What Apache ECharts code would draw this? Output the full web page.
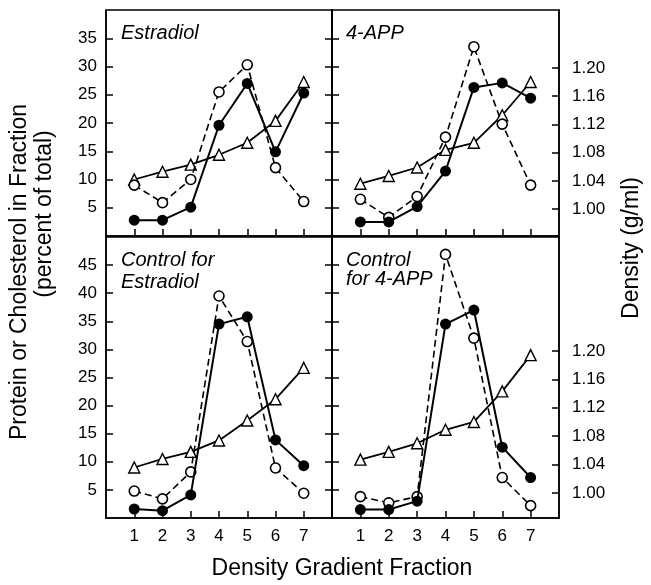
<!DOCTYPE html>
<html>
<head>
<meta charset="utf-8">
<script src="https://cdn.jsdelivr.net/npm/echarts@6/dist/echarts.min.js"></script>
<style>
  html, body { margin: 0; padding: 0; background: #fff; }
  #chart { width: 651px; height: 585px; }
</style>
</head>
<body>
<div id="chart"></div>
<script>
// fractions along the gradient
const fractions = [1, 2, 3, 4, 5, 6, 7];

// Estradiol (top left)
const estClosed = [2.8, 2.8, 5.1, 19.6, 27.0, 14.9, 25.3];
const estOpen = [9.0, 5.9, 10.0, 25.5, 30.3, 12.1, 6.1];
const estDensity = [1.042, 1.053, 1.063, 1.077, 1.094, 1.125, 1.180];

// 4-APP (top right)
const appClosed = [2.5, 2.5, 5.2, 11.5, 26.3, 27.1, 24.4];
const appOpen = [6.5, 3.3, 7.0, 17.5, 33.5, 19.8, 9.0];
const appDensity = [1.036, 1.047, 1.059, 1.084, 1.094, 1.133, 1.180];

// Control for Estradiol (bottom left)
const ctlEstClosed = [1.6, 1.3, 4.1, 34.5, 35.8, 13.9, 9.3];
const ctlEstOpen = [4.8, 3.4, 8.2, 39.5, 31.4, 8.9, 4.4];
const ctlEstDensity = [1.036, 1.048, 1.058, 1.074, 1.102, 1.132, 1.176];

// Control for 4-APP (bottom right)
const ctlAppClosed = [1.5, 1.5, 3.0, 34.5, 37.0, 12.6, 7.2];
const ctlAppOpen = [3.8, 2.7, 3.8, 46.9, 32.0, 7.2, 2.2];
const ctlAppDensity = [1.047, 1.058, 1.070, 1.089, 1.100, 1.143, 1.194];

// tick labels
const xTicks = [1, 2, 3, 4, 5, 6, 7];
const pctTicksTop = [5, 10, 15, 20, 25, 30, 35];
const pctTicksBottom = [5, 10, 15, 20, 25, 30, 35, 40, 45];
const densityTicks = [1.00, 1.04, 1.08, 1.12, 1.16, 1.20];

const FONT = "'Liberation Sans', Arial, Helvetica, sans-serif";

function pairs(vals) {
  return fractions.map((f, i) => [f, vals[i]]);
}

function xAxis(grid, showLabel) {
  return {
    type: 'value', gridIndex: grid, min: 0, max: 8,
    axisLine: { lineStyle: { color: '#000', width: 1.5 } },
    axisTick: { inside: true, length: 7, customValues: xTicks, lineStyle: { color: '#000', width: 1.5 } },
    axisLabel: { show: showLabel, customValues: xTicks, color: '#000', fontSize: 17, fontFamily: FONT, margin: 10 },
    splitLine: { show: false }
  };
}

function yAxis(grid, position, min, max, ticks, showLabel, margin, fmt) {
  return {
    type: 'value', gridIndex: grid, position: position, min: min, max: max,
    axisLine: { show: true, lineStyle: { color: '#000', width: 1.5 } },
    axisTick: { show: true, inside: true, length: 7, customValues: ticks, lineStyle: { color: '#000', width: 1.5 } },
    axisLabel: { show: showLabel, customValues: ticks, color: '#000', fontSize: 17, fontFamily: FONT, margin: margin, formatter: fmt },
    splitLine: { show: false }
  };
}

// density scale for the left panels, not drawn
function hiddenY(grid, min, max) {
  return { type: 'value', gridIndex: grid, position: 'right', min: min, max: max, show: false, splitLine: { show: false } };
}

function closedLine(xi, yi, vals) {
  return {
    type: 'line', xAxisIndex: xi, yAxisIndex: yi, data: pairs(vals),
    symbol: 'circle', symbolSize: 11, z: 4,
    itemStyle: { color: '#000' },
    lineStyle: { color: '#000', width: 2 }
  };
}

function openLine(xi, yi, vals) {
  return {
    type: 'line', xAxisIndex: xi, yAxisIndex: yi, data: pairs(vals),
    symbol: 'circle', symbolSize: 10, z: 3,
    itemStyle: { color: '#fff', borderColor: '#000', borderWidth: 1.6 },
    lineStyle: { color: '#000', width: 1.6, type: [7, 4] }
  };
}

function densityLine(xi, yi, vals) {
  return {
    type: 'line', xAxisIndex: xi, yAxisIndex: yi, data: pairs(vals),
    symbol: 'triangle', symbolSize: 11, z: 2,
    itemStyle: { color: '#fff', borderColor: '#000', borderWidth: 1.4 },
    lineStyle: { color: '#000', width: 1.8 }
  };
}

const dens = v => v.toFixed(2);

let myChart = echarts.init(document.getElementById('chart'));
let option = {
  animation: false,
  backgroundColor: '#fff',
  grid: [
    { left: 106, top: 10, width: 226, height: 226, show: true, borderColor: '#000', borderWidth: 1.5 },
    { left: 332, top: 10, width: 227, height: 226, show: true, borderColor: '#000', borderWidth: 1.5 },
    { left: 106, top: 237, width: 226, height: 281, show: true, borderColor: '#000', borderWidth: 1.5 },
    { left: 332, top: 237, width: 227, height: 281, show: true, borderColor: '#000', borderWidth: 1.5 }
  ],
  xAxis: [xAxis(0, false), xAxis(1, false), xAxis(2, true), xAxis(3, true)],
  yAxis: [
    // top left: 0, 1, 2
    yAxis(0, 'left', 0, 40, pctTicksTop, true, 9),
    yAxis(0, 'right', 0, 40, pctTicksTop, false, 8),
    hiddenY(0, 0.962, 1.282),
    // top right: 3, 4
    yAxis(1, 'left', 0, 40, pctTicksTop, false, 8),
    yAxis(1, 'right', 0.962, 1.282, densityTicks, true, 13, dens),
    // bottom left: 5, 6, 7
    yAxis(2, 'left', 0, 50, pctTicksBottom, true, 9),
    yAxis(2, 'right', 0, 50, pctTicksBottom, false, 8),
    hiddenY(2, 0.965, 1.36),
    // bottom right: 8, 9
    yAxis(3, 'left', 0, 50, pctTicksBottom, false, 8),
    yAxis(3, 'right', 0.965, 1.36, densityTicks, true, 13, dens)
  ],
  series: [
    densityLine(0, 2, estDensity), openLine(0, 0, estOpen), closedLine(0, 0, estClosed),
    densityLine(1, 4, appDensity), openLine(1, 3, appOpen), closedLine(1, 3, appClosed),
    densityLine(2, 7, ctlEstDensity), openLine(2, 5, ctlEstOpen), closedLine(2, 5, ctlEstClosed),
    densityLine(3, 9, ctlAppDensity), openLine(3, 8, ctlAppOpen), closedLine(3, 8, ctlAppClosed)
  ],
  graphic: [
    { type: 'text', x: 121, y: 33, style: { text: 'Estradiol', font: 'italic 20px ' + FONT, fill: '#000', textVerticalAlign: 'middle', verticalAlign: 'middle' } },
    { type: 'text', x: 346, y: 33, style: { text: '4-APP', font: 'italic 20px ' + FONT, fill: '#000', textVerticalAlign: 'middle', verticalAlign: 'middle' } },
    { type: 'text', x: 121, y: 249, style: { text: 'Control for\nEstradiol', font: 'italic 20px ' + FONT, lineHeight: 22, fill: '#000' } },
    { type: 'text', x: 346, y: 251, style: { text: 'Control\nfor 4-APP', font: 'italic 20px ' + FONT, lineHeight: 19, fill: '#000' } },
    { type: 'text', x: 342, y: 569, style: { text: 'Density Gradient Fraction', font: '23px ' + FONT, fill: '#000', textAlign: 'center', align: 'center', textVerticalAlign: 'middle', verticalAlign: 'middle' } },
    { type: 'text', x: 20, y: 272, rotation: Math.PI / 2, style: { text: 'Protein or Cholesterol in Fraction', font: '23px ' + FONT, fill: '#000', textAlign: 'center', align: 'center', textVerticalAlign: 'middle', verticalAlign: 'middle' } },
    { type: 'text', x: 45, y: 214, rotation: Math.PI / 2, style: { text: '(percent of total)', font: '23px ' + FONT, fill: '#000', textAlign: 'center', align: 'center', textVerticalAlign: 'middle', verticalAlign: 'middle' } },
    { type: 'text', x: 632, y: 248, rotation: Math.PI / 2, style: { text: 'Density (g/ml)', font: '23px ' + FONT, fill: '#000', textAlign: 'center', align: 'center', textVerticalAlign: 'middle', verticalAlign: 'middle' } }
  ]
};
myChart.setOption(option);
</script>
</body>
</html>
